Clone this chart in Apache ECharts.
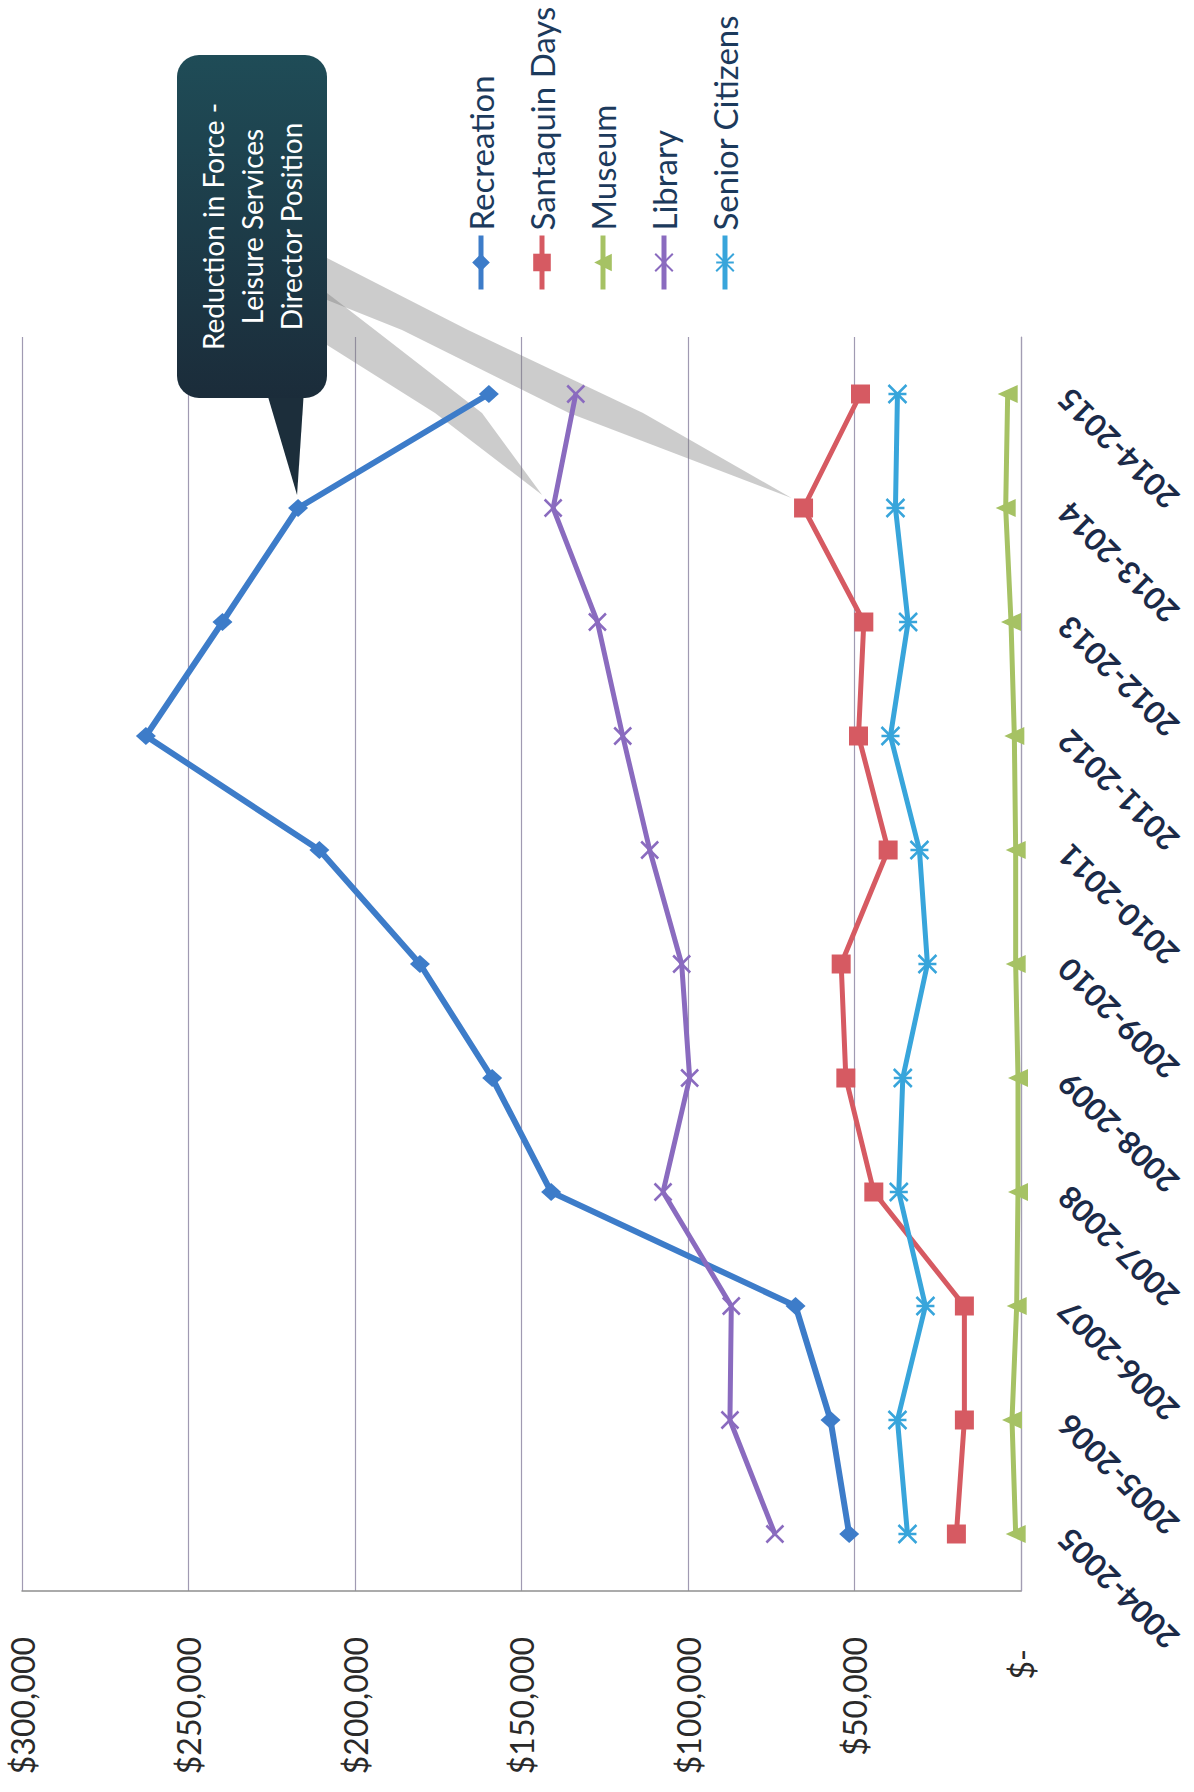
<!DOCTYPE html>
<html>
<head>
<meta charset="utf-8">
<title>Leisure Services Budget by Division</title>
<script src="https://cdn.jsdelivr.net/npm/echarts@6/dist/echarts.min.js"></script>
<style>
  html, body { margin: 0; padding: 0; background: #ffffff; overflow: hidden; }
  /* the chart is laid out landscape and turned a quarter turn counter-clockwise onto the portrait page */
  #chart {
    position: absolute; left: 0; top: 0;
    width: 1792px; height: 1194px;
    transform-origin: 0 0;
    transform: translateY(1792px) rotate(-90deg);
  }
</style>
</head>
<body>
<div id="chart"></div>
<script>
// Fiscal years
const categories = ['2004-2005', '2005-2006', '2006-2007', '2007-2008', '2008-2009',
  '2009-2010', '2010-2011', '2011-2012', '2012-2013', '2013-2014', '2014-2015'];

// Annual spending per division (USD)
const recreation     = [51600, 57200, 67700, 141100, 158800, 180500, 210700, 262800, 239800, 217100, 159800];
const santaquinDays  = [19400, 17000, 17000, 44200, 52600, 54000, 39900, 48800, 47200, 65300, 48200];
const museum         = [1600, 2700, 1300, 900, 900, 1600, 1600, 2000, 3000, 4600, 4000];
const library        = [73900, 87400, 87000, 107500, 99500, 101900, 111500, 119600, 127200, 140500, 133700];
const seniorCitizens = [34100, 37100, 28700, 36700, 35500, 28100, 30500, 39200, 33900, 37700, 37100];

// Value axis ticks
const valueMin = 0, valueMax = 300000, valueStep = 50000;

const calloutText = 'Reduction in Force -\nLeisure Services\nDirector Position';

const FONT = 'Lato, "Open Sans", sans-serif';
const X_MARK = 'path://M0,0L10,10M10,0L0,10';
const STAR_MARK = 'path://M0,0L10,10M10,0L0,10M5,0L5,10';

function lineSeries(name, data, color, symbol, size, width, border) {
  return {
    name: name,
    type: 'line',
    data: data,
    symbol: symbol,
    symbolSize: size,
    showSymbol: true,
    lineStyle: { width: width, color: color },
    itemStyle: Object.assign({ color: color }, border || {}),
    emphasis: { disabled: true },
    z: 3
  };
}

const chart = echarts.init(document.getElementById('chart'), null, {
  renderer: 'svg', width: 1792, height: 1194
});

chart.setOption({
  animation: false,
  backgroundColor: '#ffffff',
  grid: {
    left: 201, right: 337, top: 22, bottom: 173,
    containLabel: false, outerBoundsMode: 'none'
  },
  legend: {
    orient: 'vertical',
    left: 1495, top: 456,
    itemWidth: 54, itemHeight: 22, itemGap: 21,
    lineStyle: { width: 5 },
    textStyle: { fontFamily: FONT, fontSize: 33, color: '#1c3a5c', lineHeight: 40 },
    data: ['Recreation', 'Santaquin Days', 'Museum', 'Library', 'Senior Citizens']
  },
  xAxis: {
    type: 'category',
    data: categories,
    boundaryGap: true,
    axisLine: { show: true, lineStyle: { color: '#a39db3', width: 1.2 } },
    axisTick: { show: false },
    splitLine: { show: false },
    axisLabel: {
      interval: 0, rotate: 45, margin: 42,
      fontFamily: FONT, fontWeight: 'bold', fontSize: 31, color: '#1b2a48'
    }
  },
  yAxis: {
    type: 'value',
    min: valueMin, max: valueMax, interval: valueStep,
    axisLine: { show: true, lineStyle: { color: '#8f8f8f', width: 1.5 } },
    axisTick: { show: false },
    splitLine: { show: true, lineStyle: { color: '#a09ab2', width: 1.2 } },
    axisLabel: {
      margin: 46, fontFamily: FONT, fontSize: 32, color: '#2a2a2a',
      formatter: function (v) {
        return v === 0 ? '{z|$-}' : '$' + v.toLocaleString('en-US');
      },
      rich: { z: { fontFamily: FONT, fontSize: 32, color: '#2a2a2a', padding: [0, 12, 0, 0] } }
    }
  },
  series: [
    lineSeries('Recreation', recreation, '#3d7cc9', 'diamond', [18, 20], 6),
    lineSeries('Santaquin Days', santaquinDays, '#d65a62', 'rect', 19, 5),
    lineSeries('Museum', museum, '#a6c264', 'triangle', [18, 20], 5),
    lineSeries('Library', library, '#8a6bbf', X_MARK, 17, 5, { borderColor: '#8a6bbf', borderWidth: 2.5 }),
    lineSeries('Senior Citizens', seniorCitizens, '#38a5db', STAR_MARK, 18, 5, { borderColor: '#38a5db', borderWidth: 2.5 })
  ]
});

// Callout for the 2013-2014 staffing change, anchored on the plotted points
const idx = categories.indexOf('2013-2014');
const pRec = chart.convertToPixel({ gridIndex: 0 }, [idx, recreation[idx]]);
const pSan = chart.convertToPixel({ gridIndex: 0 }, [idx, santaquinDays[idx]]);
const pLib = chart.convertToPixel({ gridIndex: 0 }, [idx, library[idx]]);

const endA = [pSan[0] + 10, pSan[1] - 12];
const endB = [pLib[0] + 13, pLib[1] - 11];
const tip = [pRec[0] + 13, pRec[1] - 1];

const box = { x: 1394, y: 177, width: 343, height: 150 };
const shade = 'rgba(120,120,120,0.38)';

chart.setOption({
  graphic: [
    {
      type: 'polygon', z: 1, silent: true,
      shape: { points: [[1534, 327], [1462, 468], [1379, 643], endA, [1379, 569], [1462, 402], [1492, 327]] },
      style: { fill: shade }
    },
    {
      type: 'polygon', z: 1, silent: true,
      shape: { points: [[1499, 327], [1462, 375], [1379, 482], endB, [1379, 435], [1447, 327]] },
      style: { fill: shade }
    },
    {
      type: 'polygon', z: 100, silent: true,
      shape: { points: [[box.x + 8, 266], [box.x + 8, 304], tip] },
      style: { fill: '#1c2e3b' }
    },
    {
      type: 'rect', z: 101, silent: true,
      shape: { x: box.x, y: box.y, width: box.width, height: box.height, r: 22 },
      style: {
        fill: new echarts.graphic.LinearGradient(1, 0, 0, 0, [
          { offset: 0, color: '#1f4c57' },
          { offset: 1, color: '#1b2c3a' }
        ])
      }
    },
    {
      type: 'text', z: 102, silent: true,
      x: box.x + box.width / 2, y: box.y + box.height / 2,
      style: {
        text: calloutText,
        fill: '#ffffff',
        fontFamily: FONT, fontSize: 28, lineHeight: 39,
        align: 'center', verticalAlign: 'middle'
      }
    }
  ]
});
</script>
</body>
</html>
